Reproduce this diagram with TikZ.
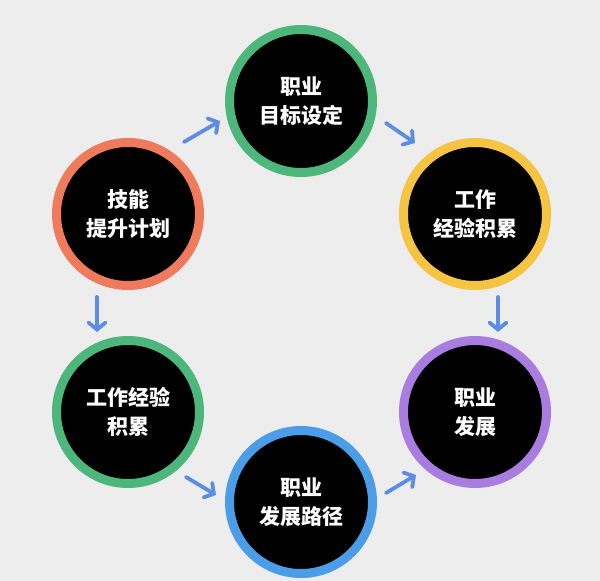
\documentclass[tikz,border=0pt]{standalone}
\usepackage{fontspec}
\setmainfont{Noto Sans CJK SC}
\usetikzlibrary{arrows.meta}
\definecolor{bgc}{HTML}{EDEDED}
\definecolor{cgreen}{HTML}{4DB67A}
\definecolor{corange}{HTML}{EF7A5C}
\definecolor{cyellow}{HTML}{F5C443}
\definecolor{cpurple}{HTML}{A87DDF}
\definecolor{cblue}{HTML}{4A9DE6}
\definecolor{carrow}{HTML}{5A8DE3}
\tikzset{
  stage/.style={circle, fill=black, line width=9pt, minimum size=143pt, inner sep=0pt,
    text=white, align=center, font=\bfseries\fontsize{21pt}{29pt}\selectfont},
  flow/.style={carrow, line width=3.8pt, line cap=round, line join=round,
    -{Straight Barb[length=7pt,width=17pt,line cap=round]}}
}
\begin{document}
\begin{tikzpicture}[x=1pt,y=-1pt]
\fill[bgc] (0,0) rectangle (600,581);
\useasboundingbox (0,0) rectangle (600,581);
\node[stage, draw=cgreen] (goal) at (301,101) {职业\\目标设定};
\node[stage, draw=corange] (skill) at (128,214) {技能\\提升计划};
\node[stage, draw=cyellow] (work) at (475,214) {工作\\经验积累};
\node[stage, draw=cgreen] (exp) at (128,412) {工作经验\\积累};
\node[stage, draw=cpurple] (dev) at (475,412) {职业\\发展};
\node[stage, draw=cblue] (path) at (301,502) {职业\\发展路径};
\coordinate (a1s) at (184,142); \coordinate (a1e) at (220,121);
\coordinate (a2s) at (386,123); \coordinate (a2e) at (415,143);
\coordinate (a3s) at (498,297); \coordinate (a3e) at (498,332);
\coordinate (a4s) at (97,297);  \coordinate (a4e) at (97,332);
\coordinate (a5s) at (186,477); \coordinate (a5e) at (216,495);
\coordinate (a6s) at (386,493); \coordinate (a6e) at (416,475);
\draw[flow] (a1s) -- (a1e);
\draw[flow] (a2s) -- (a2e);
\draw[flow] (a3s) -- (a3e);
\draw[flow] (a4s) -- (a4e);
\draw[flow] (a5s) -- (a5e);
\draw[flow] (a6s) -- (a6e);
\end{tikzpicture}
\end{document}
